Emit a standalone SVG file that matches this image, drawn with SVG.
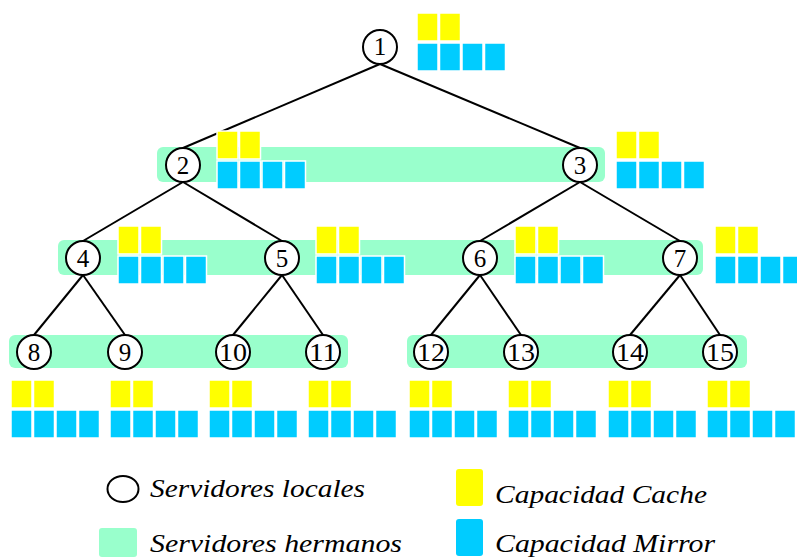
<svg xmlns="http://www.w3.org/2000/svg" xmlns:xlink="http://www.w3.org/1999/xlink" width="797" height="558" viewBox="0 0 797 558">
  <style>
    .band { fill: #99FFCC; }
    .cache { fill: #FFFF00; stroke: #FFFFFF; stroke-width: 1.5; }
    .mirror { fill: #00CCFF; stroke: #FFFFFF; stroke-width: 1.5; }
    .node circle, .legend ellipse { fill: #FFFFFF; stroke: #000000; stroke-width: 2; }
    .node text { font-size: 25px; text-anchor: middle; fill: #000000; }
    .edges line { stroke: #000000; stroke-width: 2; }
    .legend text { font-style: italic; font-size: 25px; fill: #000000; }
  </style>
  <defs>
    <!-- capacity blocks: two cache units over four mirror units -->
    <g id="cap">
      <rect class="cache" x="0" y="0" width="21" height="28"/>
      <rect class="cache" x="22.5" y="0" width="21" height="28"/>
      <rect class="mirror" x="0" y="30" width="21" height="28"/>
      <rect class="mirror" x="22.5" y="30" width="21" height="28"/>
      <rect class="mirror" x="45" y="30" width="21" height="28"/>
      <rect class="mirror" x="67.5" y="30" width="21" height="28"/>
    </g>
  </defs>

  <!-- sibling server bands -->
  <g id="bands">
    <rect class="band" x="157" y="147" width="448" height="35" rx="6"/>
    <rect class="band" x="58" y="240" width="645" height="35" rx="6"/>
    <rect class="band" x="9" y="335" width="339" height="33" rx="6"/>
    <rect class="band" x="407" y="335" width="340" height="33" rx="6"/>
  </g>

  <!-- tree connectors -->
  <g id="edges" class="edges">
    <line x1="380" y1="64" x2="183" y2="148"/>
    <line x1="380" y1="64" x2="580" y2="148"/>
    <line x1="183" y1="182" x2="83" y2="241"/>
    <line x1="183" y1="182" x2="282" y2="241"/>
    <line x1="580" y1="182" x2="480" y2="241"/>
    <line x1="580" y1="182" x2="680" y2="241"/>
    <line x1="83" y1="275" x2="34" y2="335"/>
    <line x1="83" y1="275" x2="125" y2="335"/>
    <line x1="282" y1="275" x2="233" y2="335"/>
    <line x1="282" y1="275" x2="323" y2="335"/>
    <line x1="480" y1="275" x2="431" y2="335"/>
    <line x1="480" y1="275" x2="521" y2="335"/>
    <line x1="680" y1="275" x2="630" y2="335"/>
    <line x1="680" y1="275" x2="720" y2="335"/>
  </g>

  <!-- capacity blocks per server -->
  <g id="capacities">
    <use xlink:href="#cap" x="417" y="13"/>
    <use xlink:href="#cap" x="217" y="131"/>
    <use xlink:href="#cap" x="616" y="131"/>
    <use xlink:href="#cap" x="118" y="226"/>
    <use xlink:href="#cap" x="316" y="226"/>
    <use xlink:href="#cap" x="515" y="226"/>
    <use xlink:href="#cap" x="715" y="226"/>
    <use xlink:href="#cap" x="11" y="380"/>
    <use xlink:href="#cap" x="110" y="380"/>
    <use xlink:href="#cap" x="209" y="380"/>
    <use xlink:href="#cap" x="308" y="380"/>
    <use xlink:href="#cap" x="409" y="380"/>
    <use xlink:href="#cap" x="508" y="380"/>
    <use xlink:href="#cap" x="608" y="380"/>
    <use xlink:href="#cap" x="707" y="380"/>
  </g>

  <!-- local servers -->
  <g font-family="'Liberation Serif', 'DejaVu Serif', serif">
    <g id="n1" class="node"><circle cx="380" cy="47" r="17"/><text x="380" y="55">1</text></g>
    <g id="n2" class="node"><circle cx="183" cy="165" r="17"/><text x="183" y="174">2</text></g>
    <g id="n3" class="node"><circle cx="580" cy="165" r="17"/><text x="580" y="174">3</text></g>
    <g id="n4" class="node"><circle cx="83" cy="258" r="17"/><text x="83" y="267">4</text></g>
    <g id="n5" class="node"><circle cx="282" cy="258" r="17"/><text x="282" y="267">5</text></g>
    <g id="n6" class="node"><circle cx="480" cy="258" r="17"/><text x="480" y="267">6</text></g>
    <g id="n7" class="node"><circle cx="680" cy="258" r="17"/><text x="680" y="267">7</text></g>
    <g id="n8" class="node"><circle cx="34" cy="352" r="17"/><text x="34" y="361">8</text></g>
    <g id="n9" class="node"><circle cx="125" cy="352" r="17"/><text x="125" y="361">9</text></g>
    <g id="n10" class="node"><circle cx="233" cy="352" r="17"/><text x="233" y="361" textLength="28" lengthAdjust="spacingAndGlyphs">10</text></g>
    <g id="n11" class="node"><circle cx="323" cy="352" r="17"/><text x="323" y="361" textLength="28" lengthAdjust="spacingAndGlyphs">11</text></g>
    <g id="n12" class="node"><circle cx="431" cy="352" r="17"/><text x="431" y="361" textLength="28" lengthAdjust="spacingAndGlyphs">12</text></g>
    <g id="n13" class="node"><circle cx="521" cy="352" r="17"/><text x="521" y="361" textLength="28" lengthAdjust="spacingAndGlyphs">13</text></g>
    <g id="n14" class="node"><circle cx="630" cy="352" r="17"/><text x="630" y="361" textLength="28" lengthAdjust="spacingAndGlyphs">14</text></g>
    <g id="n15" class="node"><circle cx="720" cy="352" r="17"/><text x="720" y="361" textLength="28" lengthAdjust="spacingAndGlyphs">15</text></g>

    <!-- legend -->
    <g id="legend" class="legend">
      <ellipse cx="123" cy="489" rx="15.5" ry="13"/>
      <text x="150" y="497" textLength="215" lengthAdjust="spacingAndGlyphs">Servidores locales</text>
      <rect class="band" x="99" y="528" width="38" height="29" rx="3"/>
      <text x="150" y="552" textLength="252" lengthAdjust="spacingAndGlyphs">Servidores hermanos</text>
      <rect x="456" y="469" width="27" height="37" rx="3" fill="#FFFF00"/>
      <text x="495" y="503" textLength="212" lengthAdjust="spacingAndGlyphs">Capacidad Cache</text>
      <rect x="456" y="519" width="27" height="37" rx="3" fill="#00CCFF"/>
      <text x="495" y="552" textLength="220" lengthAdjust="spacingAndGlyphs">Capacidad Mirror</text>
    </g>
  </g>
</svg>
